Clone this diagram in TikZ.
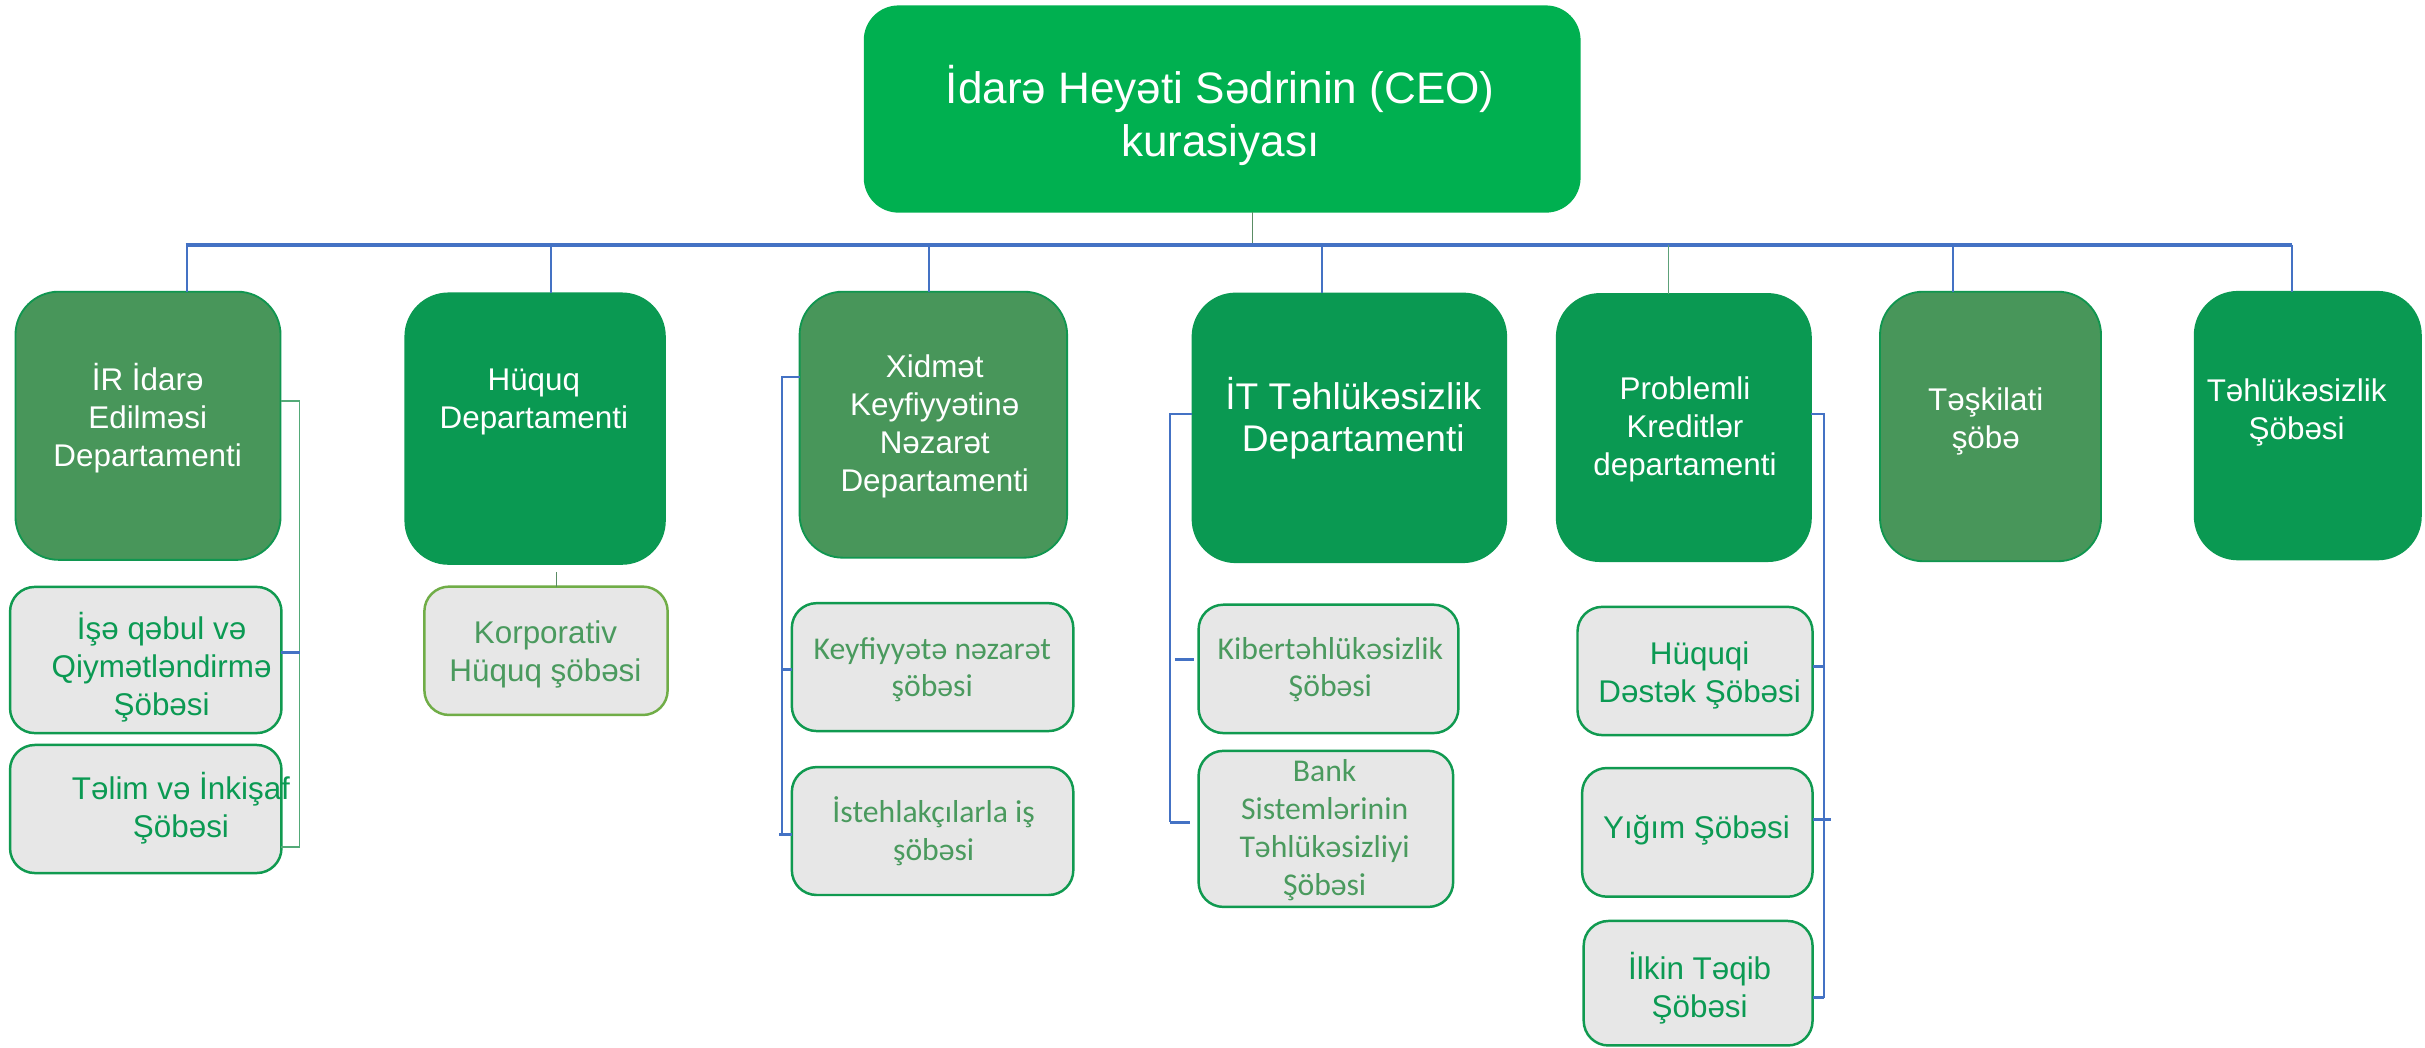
\documentclass[tikz,border=0pt]{standalone}
\usepackage{fontspec}
\setmainfont{Liberation Sans}
\newfontfamily\calib{Carlito}
\definecolor{ceog}{RGB}{0,176,80}
\definecolor{darkg}{RGB}{10,153,82}
\definecolor{medg}{RGB}{72,150,90}
\definecolor{medborder}{RGB}{16,150,80}
\definecolor{subfill}{RGB}{231,231,231}
\definecolor{subborder}{RGB}{16,154,80}
\definecolor{olive}{RGB}{112,173,71}
\definecolor{busblue}{RGB}{68,114,196}
\definecolor{txtg}{RGB}{11,154,83}
\definecolor{txtm}{RGB}{74,154,94}
\definecolor{lineg}{RGB}{84,170,120}
\definecolor{thin}{RGB}{90,140,100}
\tikzset{
  ceobox/.style={draw=ceog, fill=ceog, rounded corners=22pt, inner sep=0pt, outer sep=0pt, line width=1pt},
  deptD/.style={draw=darkg, fill=darkg, rounded corners=28pt, inner sep=0pt, outer sep=0pt, line width=1pt},
  deptM/.style={draw=medborder, fill=medg, rounded corners=28pt, inner sep=0pt, outer sep=0pt, line width=1.2pt},
  subbox/.style={draw=subborder, fill=subfill, rounded corners=16pt, inner sep=0pt, outer sep=0pt, line width=1.6pt},
  korpbox/.style={subbox, draw=olive},
  lbl/.style={align=center, inner sep=0pt, outer sep=0pt},
  wtxt/.style={lbl, text=white, font=\fontsize{20.3}{24.6}\selectfont},
  ceotxt/.style={lbl, text=white, font=\fontsize{28.5}{34.5}\selectfont},
  ittxt/.style={lbl, text=white, font=\fontsize{24}{27.5}\selectfont},
  gtxt/.style={lbl, text=txtg, font=\fontsize{20.3}{24.6}\selectfont},
  mtxt/.style={lbl, text=txtm, font=\fontsize{20.3}{24.3}\selectfont},
  ctxt/.style={lbl, text=txtm, font=\calib\fontsize{20.5}{24.5}\selectfont},
  busline/.style={draw=busblue, line width=2pt},
  dropline/.style={draw=busblue, line width=1.3pt},
  tickline/.style={draw=busblue, line width=2pt},
  gline/.style={draw=lineg, line width=1.1pt},
  thinline/.style={draw=thin, line width=0.7pt},
}
\begin{document}
\begin{tikzpicture}[x=1pt,y=-1pt]
\useasboundingbox (0,0) rectangle (1568,677);
\fill[white] (0,0) rectangle (1568,677);

% ---------- coordinates ----------
\coordinate (busL) at (120,158.4);
\coordinate (busR) at (1482,158.4);
\coordinate (ceoc) at (810,158.4);
\coordinate (d1) at (121,158.4);
\coordinate (d2) at (356,158.4);
\coordinate (d3) at (601,158.4);
\coordinate (d4) at (855,158.4);
\coordinate (d5) at (1079,158.4);
\coordinate (d6) at (1263,158.4);
\coordinate (d7) at (1482,158.4);

% ---------- top boxes ----------
\node[ceobox, minimum width=462.5pt, minimum height=133pt] (CEO) at (790.25,70.5) {};
\node[deptM, minimum width=171.4pt, minimum height=173.4pt] (IR) at (95.7,275.3) {};
\node[deptD, minimum width=168pt, minimum height=175.1pt] (HQ) at (346,277.15) {};
\node[deptM, minimum width=173pt, minimum height=172pt] (XK) at (603.5,274.6) {};
\node[deptD, minimum width=203pt, minimum height=173.9pt] (IT) at (872.5,276.65) {};
\node[deptD, minimum width=164.5pt, minimum height=172.9pt] (PK) at (1088.75,276.45) {};
\node[deptM, minimum width=142.9pt, minimum height=174.3pt] (TS) at (1287.05,275.75) {};
\node[deptD, minimum width=146.4pt, minimum height=173.2pt] (TH) at (1492.2,275.2) {};

% ---------- sub boxes ----------
\node[subbox, minimum width=175.5pt, minimum height=94.5pt] (IQ) at (94.25,426.75) {};
\node[subbox, minimum width=175.5pt, minimum height=82.8pt] (TI) at (94.25,523.1) {};
\node[korpbox, minimum width=157.3pt, minimum height=83pt] (KH) at (353.05,420.8) {};
\node[subbox, minimum width=182pt, minimum height=82.7pt] (KN) at (603,431.35) {};
\node[subbox, minimum width=182pt, minimum height=82.7pt] (IS) at (603,537.35) {};
\node[subbox, minimum width=168pt, minimum height=83pt] (KT) at (859,432.5) {};
\node[subbox, minimum width=164.6pt, minimum height=100.9pt] (BS) at (857.3,535.95) {};
\node[subbox, minimum width=152pt, minimum height=82.9pt] (HD) at (1096,433.85) {};
\node[subbox, minimum width=149pt, minimum height=83.2pt] (YS) at (1097.5,538.2) {};
\node[subbox, minimum width=148pt, minimum height=80.5pt] (IT2) at (1098,635.75) {};

% ---------- bus and drops ----------
\draw[thinline] (ceoc |- CEO.south) -- (ceoc);
\draw[busline] (busL) -- (busR);
\draw[dropline] (d1) -- (d1 |- IR.north);
\draw[dropline] (d2) -- (d2 |- HQ.north);
\draw[dropline] (d3) -- (d3 |- XK.north);
\draw[dropline] (d4) -- (d4 |- IT.north);
\draw[gline, draw=lineg!80!gray, line width=0.8pt] (d5) -- (d5 |- PK.north);
\draw[dropline] (d6) -- (d6 |- TS.north);
\draw[dropline] (d7) -- (d7 |- TH.north);

% ---------- IR side connector ----------
\coordinate (irv) at (193.7,259.3);
\coordinate (irb) at (193.7,547.7);
\draw[gline] (irv -| IR.east) -- (irv) -- (irb) -- (irb -| TI.east);
\coordinate (irt) at (193.7,422);
\draw[tickline] (irt -| IQ.east) -- (irt);

% ---------- Huquq -> Korporativ ----------
\coordinate (hk) at (360,370);
\draw[thinline] (hk) -- (hk |- KH.north);

% ---------- Xidmet side connector ----------
\coordinate (xv) at (505.7,243.5);
\coordinate (xb) at (505.7,539.3);
\coordinate (xt) at (505.7,432.6);
\draw[dropline] (xv -| XK.west) -- (xv) -- (xb);
\draw[tickline] (xt) -- (xt -| KN.west);
\draw[tickline] ([xshift=-2pt]xb) -- (xb -| IS.west);

% ---------- IT side connector ----------
\coordinate (iv) at (756.7,267.9);
\coordinate (ib) at (756.7,531.6);
\coordinate (it1) at (759.7,426.7);
\draw[dropline] (iv -| IT.west) -- (iv) -- (ib);
\draw[tickline] (it1) -- ([xshift=-3pt]it1 -| KT.west);
\draw[tickline] (ib) -- ([xshift=-5.5pt]ib -| BS.west);

% ---------- Problemli side connector ----------
\coordinate (pv) at (1179.4,267.9);
\coordinate (pb) at (1179.4,645);
\coordinate (p1) at (1179.4,431);
\coordinate (p2) at (1179.4,530);
\draw[dropline] (pv -| PK.east) -- (pv) -- (pb);
\draw[tickline] (p1 -| HD.east) -- (p1);
\draw[tickline] (p2 -| YS.east) -- ([xshift=4.5pt]p2);
\draw[tickline] (pb -| IT2.east) -- (pb);

% ---------- labels ----------
\node[ceotxt] (CEOt) at (789,74.6) {İdarə Heyəti Sədrinin (CEO)\\kurasiyası};
\node[wtxt] (IRt) at (95.5,270.1) {İR İdarə\\Edilməsi\\Departamenti};
\node[wtxt] (HQt) at (345.2,259.9) {Hüquq\\Departamenti};
\node[wtxt] (XKt) at (604.4,275.9) {Xidmət\\Keyfiyyətinə\\Nəzarət\\Departamenti};
\node[ittxt] (ITt) at (875,270.3) {İT Təhlükəsizlik\\Departamenti};
\node[wtxt] (PKt) at (1089.5,277.8) {Problemli\\Kreditlər\\departamenti};
\node[wtxt] (TSt) at (1284,272.4) {Təşkilati\\şöbə};
\node[wtxt] (THt) at (1485,266.8) {Təhlükəsizlik\\Şöbəsi};

\node[gtxt] (IQt) at (104.5,431.7) {İşə qəbul və\\Qiymətləndirmə\\Şöbəsi};
\node[gtxt] (TIt) at (117,522.3) {Təlim və İnkişaf\\Şöbəsi};
\node[mtxt] (KHt) at (352.7,423.2) {Korporativ\\Hüquq şöbəsi};
\node[ctxt] (KNt) at (602.8,433) {Keyfiyyətə nəzarət\\şöbəsi};
\node[ctxt] (ISt) at (603.7,537.5) {İstehlakçılarla iş\\şöbəsi};
\node[ctxt] (KTt) at (860.2,433) {Kibertəhlükəsizlik\\Şöbəsi};
\node[ctxt] (BSt) at (856.5,536.7) {Bank\\Sistemlərinin\\Təhlükəsizliyi\\Şöbəsi};
\node[gtxt] (HDt) at (1099,436.7) {Hüquqi\\Dəstək Şöbəsi};
\node[gtxt] (YSt) at (1097,537) {Yığım Şöbəsi};
\node[gtxt] (ITt2) at (1099,638.9) {İlkin Təqib\\Şöbəsi};
\end{tikzpicture}
\end{document}
